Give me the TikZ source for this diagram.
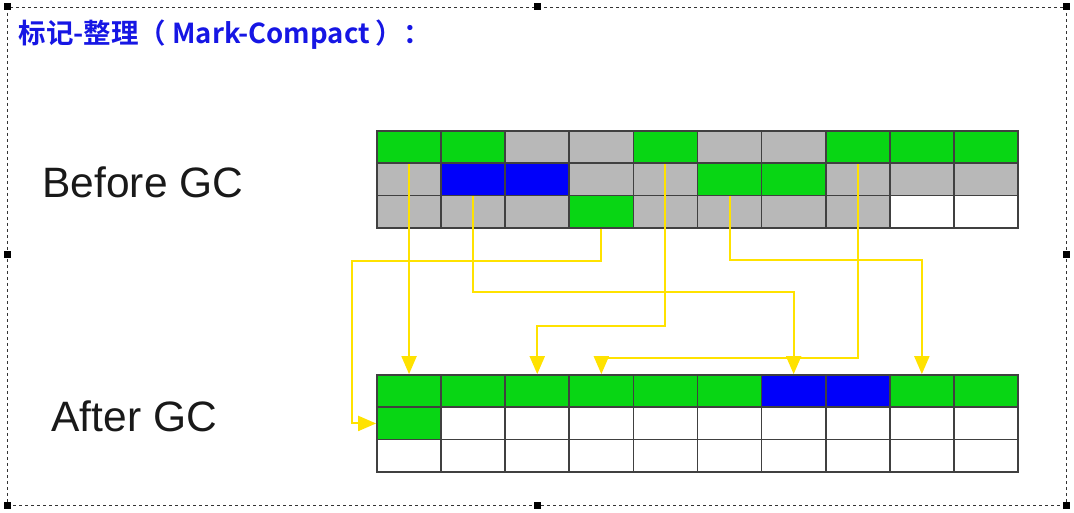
\documentclass[tikz,border=0pt]{standalone}
\usepackage{fontspec}
\setmainfont{Liberation Sans}
\newfontfamily\cjk{Noto Sans CJK SC}[BoldFont={Noto Sans CJK SC Bold}]
\usetikzlibrary{arrows.meta}

\definecolor{cellG}{RGB}{8,214,20}
\definecolor{cellE}{RGB}{184,184,184}
\definecolor{cellB}{RGB}{0,0,250}
\definecolor{cellW}{RGB}{255,255,255}
\definecolor{titleblue}{RGB}{22,22,228}
\definecolor{moveY}{RGB}{255,226,0}

\begin{document}
\begin{tikzpicture}[
    x=1pt, y=-1pt,
    cell/.style={rectangle, draw=black!75, line width=1.7pt, inner sep=0pt, minimum width=64.1pt, minimum height=32.3pt},
    move/.style={draw=moveY, line width=2pt, -{Triangle[width=15pt, length=18pt]}},
    label/.style={anchor=west, font=\fontsize{42.5}{46}\selectfont, text=black!90},
    handle/.style={fill=black}
    ]

    \useasboundingbox (0,0) rectangle (1074,513);

    % frame
    \draw[black!80, line width=0.9pt, dash pattern=on 3pt off 3pt] (7,7) rectangle (1066,505);
    \foreach \hx/\hy in {7/7, 537/7, 1066/7, 7/255, 1066/255, 7/505, 537/505, 1066/505}
        \fill[handle] (\hx-3.5,\hy-3.5) rectangle (\hx+3.5,\hy+3.5);

    % title
    \node[anchor=west, text=titleblue, font=\cjk\bfseries\fontsize{27.5}{32}\selectfont] (title) at (15,35) {标记-整理（ Mark-Compact ）：};

    \node[label] (before) at (39,182) {Before GC};
    \node[label] (after) at (48,416) {After GC};

    % heap before
    \foreach \row [count=\r] in {
        {cellG,cellG,cellE,cellE,cellG,cellE,cellE,cellG,cellG,cellG},
        {cellE,cellB,cellB,cellE,cellE,cellG,cellG,cellE,cellE,cellE},
        {cellE,cellE,cellE,cellG,cellE,cellE,cellE,cellE,cellW,cellW}}
        \foreach \fc [count=\c] in \row
            \node[cell, fill=\fc] (b-\r-\c) at ({377+64.1*(\c-0.5)}, {131+32.3*(\r-0.5)}) {};

    % heap after
    \foreach \row [count=\r] in {
        {cellG,cellG,cellG,cellG,cellG,cellG,cellB,cellB,cellG,cellG},
        {cellG,cellW,cellW,cellW,cellW,cellW,cellW,cellW,cellW,cellW},
        {cellW,cellW,cellW,cellW,cellW,cellW,cellW,cellW,cellW,cellW}}
        \foreach \fc [count=\c] in \row
            \node[cell, fill=\fc] (a-\r-\c) at ({377+64.1*(\c-0.5)}, {375+32.3*(\r-0.5)}) {};

    % moves
    \draw[move] (b-1-1.south) -- (a-1-1.north);
    \draw[move] (b-2-2.south) -- ++(0,96) -| (a-1-7.north);
    \draw[move] (b-1-5.south) -- ++(0,162) -| (a-1-3.north);
    \draw[move] (b-1-8.south) -- ++(0,194) -| (a-1-4.north);
    \draw[move] (b-3-4.south) -- ++(0,32) -- ++(-249,0) |- (a-2-1.west);
    \draw[move] (b-2-6.south) -- ++(0,64) -| (a-1-9.north);

\end{tikzpicture}
\end{document}
